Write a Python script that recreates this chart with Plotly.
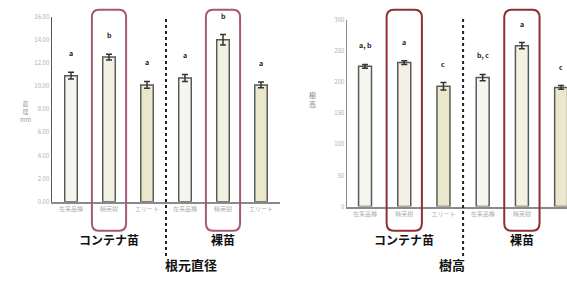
import plotly.graph_objects as go

# ---- data ----
categories = ["在来品種", "精英樹", "エリート", "在来品種", "精英樹", "エリート"]
cat_pos = [0, 1, 2, 3, 4, 5]

root_diam = [10.9, 12.5, 10.1, 10.7, 14.0, 10.1]
root_err = [0.3, 0.25, 0.3, 0.3, 0.45, 0.25]
root_letters = ["a", "b", "a", "a", "b", "a"]

height = [225, 231, 193, 207, 258, 191]
height_err = [3, 3, 6, 5, 5, 3]
height_letters = ["a, b", "a", "c", "b, c", "a", "c"]

left_ticks = [0, 2, 4, 6, 8, 10, 12, 14, 16]
right_ticks = [0, 50, 100, 150, 200, 250, 300]

group_labels = ["コンテナ苗", "裸苗"]
chart_titles = ["根元直径", "樹高"]
highlight = [1, 4]

fills = ["#f6f5ef", "#f3f1e4", "#ebe7cc", "#f6f5ef", "#f3f1e4", "#ebe7cc"]

FONT = "Noto Sans CJK JP"
W, H = 567, 291

fig = go.Figure()

fig.add_trace(go.Bar(
    x=cat_pos, y=root_diam, width=0.33,
    marker=dict(color=fills, line=dict(color="#5a5a55", width=1.5)),
    error_y=dict(type="data", array=root_err, color="#333", thickness=1.5, width=3),
    xaxis="x", yaxis="y", showlegend=False))

fig.add_trace(go.Bar(
    x=cat_pos, y=height, width=0.33,
    marker=dict(color=fills, line=dict(color="#5a5a55", width=1.5)),
    error_y=dict(type="data", array=height_err, color="#333", thickness=1.5, width=3),
    xaxis="x2", yaxis="y2", showlegend=False))

tickfont = dict(family=FONT, size=6, color="#b0b0b0")

fig.update_layout(
    width=W, height=H, margin=dict(l=0, r=0, t=0, b=0),
    paper_bgcolor="white", plot_bgcolor="white",
    font=dict(family=FONT),
    bargap=0,
    xaxis=dict(domain=[52 / W, 280 / W], range=[-0.5, 5.5],
               tickvals=cat_pos, ticktext=categories, tickfont=tickfont,
               showline=True, linecolor="#8a8a8a", linewidth=2,
               showgrid=False, zeroline=False, ticks="", ticklen=0),
    yaxis=dict(domain=[1 - 203 / H, 1 - 12 / H], range=[0, 16],
               tickvals=left_ticks, tickformat=".2f", tickfont=tickfont,
               showline=True, linecolor="#555", linewidth=1.5,
               showgrid=False, zeroline=False, ticks=""),
    xaxis2=dict(domain=[347 / W, 1], range=[-0.46, 5.15], anchor="y2",
                tickvals=cat_pos, ticktext=categories, tickfont=tickfont,
                showline=True, linecolor="#8a8a8a", linewidth=2,
                showgrid=False, zeroline=False, ticks=""),
    yaxis2=dict(domain=[1 - 208 / H, 1 - 15 / H], range=[0, 300], anchor="x2",
                tickvals=right_ticks, tickfont=tickfont,
                showline=True, linecolor="#888", linewidth=1.5,
                showgrid=False, zeroline=False, ticks=""),
)

annotations = []
shapes = []

for xa, ya, vals, errs, letters, box_col in [
    ("x", "y", root_diam, root_err, root_letters, "#a45a74"),
    ("x2", "y2", height, height_err, height_letters, "#8e2f33"),
]:
    for i, (v, e, l) in enumerate(zip(vals, errs, letters)):
        annotations.append(dict(x=cat_pos[i], y=v + e, xref=xa, yref=ya, text=f"<b>{l}</b>",
                                showarrow=False, yanchor="bottom", yshift=12,
                                font=dict(family=FONT, size=7, color="#222")))
    # highlight boxes (rounded)
    for h in highlight:
        x0, x1 = h - 0.45, h + 0.45
        y0, y1 = 1 - 233 / H, 1 - 5 / H
        rx, ry = 0.18, 8 / H
        path = (f"M {x0+rx},{y1} L {x1-rx},{y1} Q {x1},{y1} {x1},{y1-ry} "
                f"L {x1},{y0+ry} Q {x1},{y0} {x1-rx},{y0} L {x0+rx},{y0} "
                f"Q {x0},{y0} {x0},{y0+ry} L {x0},{y1-ry} Q {x0},{y1} {x0+rx},{y1} Z")
        shapes.append(dict(type="path", path=path, xref=xa, yref="paper",
                           line=dict(color=box_col, width=2), layer="above"))
    # dotted divider
    shapes.append(dict(type="line", x0=2.5, x1=2.5, xref=xa, yref="paper",
                       y0=1 - 259 / H, y1=1 - 12 / H,
                       line=dict(color="#222", width=2, dash="dot")))
    # group labels
    for gi, gl in enumerate(group_labels):
        annotations.append(dict(x=1 if gi == 0 else 4, y=1 - 253 / H, xref=xa, yref="paper",
                                text=f"<b>{gl}</b>", showarrow=False,
                                font=dict(family=FONT, size=12, color="#111")))

annotations.append(dict(x=163 / W, y=1 - 280 / H, xref="paper", yref="paper",
                        text=f"<b>{chart_titles[0]}</b>", showarrow=False,
                        font=dict(family=FONT, size=13, color="#111")))
annotations.append(dict(x=467 / W, y=1 - 280 / H, xref="paper", yref="paper",
                        text=f"<b>{chart_titles[1]}</b>", showarrow=False,
                        font=dict(family=FONT, size=13, color="#111")))

# y-axis titles (small vertical)
annotations.append(dict(x=18 / W, y=1 - 95 / H, xref="paper", yref="paper",
                        text="直<br>径<br>mm", showarrow=False,
                        font=dict(family=FONT, size=6, color="#999")))
annotations.append(dict(x=312 / W, y=1 - 86 / H, xref="paper", yref="paper",
                        text="樹<br>高", showarrow=False,
                        font=dict(family=FONT, size=7, color="#888")))

fig.update_layout(annotations=annotations, shapes=shapes)

fig.write_html("out.html",
               config={"displayModeBar": False, "staticPlot": True},
               post_script="document.body.style.margin='0';document.body.style.overflow='hidden';")
